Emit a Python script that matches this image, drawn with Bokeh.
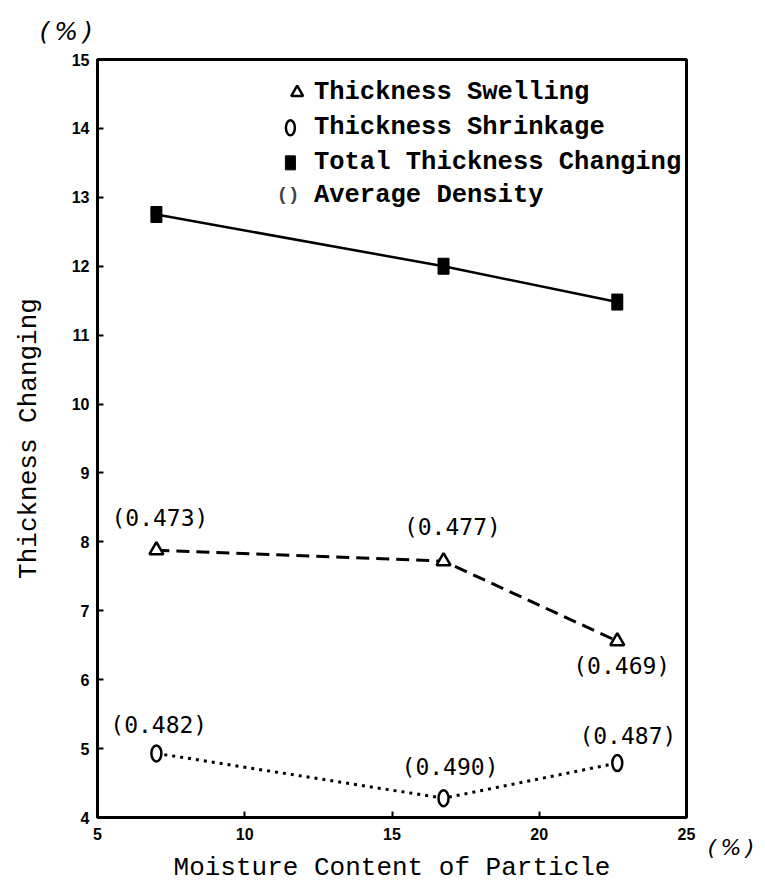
from bokeh.plotting import figure
from bokeh.models import Range1d, FixedTicker, Label, LinearAxis, Title
from bokeh.core.properties import value
from bokeh.embed import file_html
from bokeh.resources import INLINE

# ---- data ----
moisture = [7.0, 16.75, 22.65]
total_changing = [12.75, 12.0, 11.48]
swelling = [7.88, 7.72, 6.56]
shrinkage = [4.93, 4.28, 4.79]
swelling_density = ["(0.473)", "(0.477)", "(0.469)"]
shrinkage_density = ["(0.482)", "(0.490)", "(0.487)"]
x_ticks = [5, 10, 15, 20, 25]
y_ticks = [4, 5, 6, 7, 8, 9, 10, 11, 12, 13, 14, 15]
legend_labels = ["Thickness Swelling", "Thickness Shrinkage",
                 "Total Thickness Changing", "Average Density"]
x_title = "Moisture Content of Particle"
y_title = "Thickness Changing"
unit_label = "(\u2009%\u2009)"

# ---- layout constants (label offsets in data units) ----
sw_dx = [0.12, 0.3, 0.15]
sw_dy = [0.46, 0.50, -0.36]
sh_dx = [0.08, 0.22, 0.36]
sh_dy = [0.41, 0.45, 0.39]

MONO = "Liberation Mono"
LBL = "DejaVu Sans Mono"

p = figure(width=757, height=887, output_backend="svg", toolbar_location=None,
           x_range=Range1d(5, 25), y_range=Range1d(4, 15),
           min_border_left=97, min_border_top=59, min_border_right=67,
           min_border_bottom=70)
p.background_fill_color = "white"
p.border_fill_color = "white"
p.grid.visible = False
p.outline_line_color = "black"
p.outline_line_width = 3

for ax in (p.xaxis[0], p.yaxis[0]):
    ax.axis_line_width = 3
    ax.axis_line_color = "black"
    ax.major_tick_in = 6
    ax.major_tick_out = 0
    ax.major_tick_line_width = 2
    ax.minor_tick_in = 0
    ax.minor_tick_out = 0
    ax.major_label_text_font = "Liberation Sans"
    ax.major_label_text_font_style = "bold"
    ax.major_label_text_font_size = "16px"
    ax.major_label_text_color = "black"
    ax.axis_label_text_font = MONO
    ax.axis_label_text_font_size = "26px"
    ax.axis_label_text_font_style = "normal"
    ax.axis_label_text_color = "black"
p.xaxis.ticker = FixedTicker(ticks=x_ticks)
p.yaxis.ticker = FixedTicker(ticks=y_ticks)
p.xaxis.major_label_standoff = 10
p.yaxis.major_label_standoff = 8
p.xaxis.axis_label = x_title
p.yaxis.axis_label = y_title
p.xaxis.axis_label_standoff = 10
p.yaxis.axis_label_standoff = 25

# unit label at lower right, via a bare right axis with one tick at the bottom
unit_axis = LinearAxis(ticker=FixedTicker(ticks=[4]),
                       major_label_overrides={4: "\n\n" + unit_label})
unit_axis.axis_line_color = None
unit_axis.major_tick_line_color = None
unit_axis.minor_tick_line_color = None
unit_axis.major_label_standoff = 15
unit_axis.major_label_text_font = "DejaVu Sans"
unit_axis.major_label_text_font_style = "italic"
unit_axis.major_label_text_font_size = "22px"
unit_axis.major_label_text_color = "black"
p.add_layout(unit_axis, "right")

# unit label at upper left, via the title
p.title = Title(text=unit_label, align="left", offset=-58,
                text_font="DejaVu Sans", text_font_style="italic",
                text_font_size="25px", text_color="black", standoff=28)

# ---- series ----
p.line(moisture, total_changing, line_color="black", line_width=2.5)
p.rect(moisture, total_changing, width=11, height=16, width_units="screen",
       height_units="screen", fill_color="black", line_color="black")

p.line(moisture, swelling, line_color="black", line_width=3, line_dash="13 7")
p.scatter(moisture, swelling, marker="triangle", size=14, fill_color="white",
          line_color="black", line_width=2.5)

p.line(moisture, shrinkage, line_color="black", line_width=3, line_dash="3 5")
p.ellipse(moisture, shrinkage, width=10, height=16, width_units="screen",
          height_units="screen", fill_color="white", line_color="black",
          line_width=2.5)

# density labels
p.text([m + d for m, d in zip(moisture, sw_dx)],
       [v + d for v, d in zip(swelling, sw_dy)], text=swelling_density,
       text_font=value(LBL), text_font_size="23px", text_align="center",
       text_baseline="middle", text_color="black")
p.text([m + d for m, d in zip(moisture, sh_dx)],
       [v + d for v, d in zip(shrinkage, sh_dy)], text=shrinkage_density,
       text_font=value(LBL), text_font_size="23px", text_align="center",
       text_baseline="middle", text_color="black")

# ---- legend (manual, no box) ----
leg_x_text = 12.35
leg_y = [14.52, 14.01, 13.50, 13.03]
p.scatter([11.78], [leg_y[0]], marker="triangle", size=12,
          fill_color="white", line_color="black", line_width=2.5)
p.ellipse([11.55], [leg_y[1]], width=9, height=15, width_units="screen",
          height_units="screen", fill_color="white", line_color="black",
          line_width=2.5)
p.rect([11.55], [leg_y[2]], width=10, height=14, width_units="screen",
       height_units="screen", fill_color="black", line_color="black")
p.add_layout(Label(x=11.47, y=leg_y[3], text="()", text_font=MONO,
                   text_font_size="19px", text_font_style="bold",
                   text_align="center", text_baseline="middle"))
for lab, yy in zip(legend_labels, leg_y):
    p.add_layout(Label(x=leg_x_text, y=yy, text=lab, text_font=MONO,
                       text_font_size="25.5px", text_font_style="bold",
                       text_align="left", text_baseline="middle",
                       text_color="black"))

open("out.html", "w").write(file_html(p, INLINE))
